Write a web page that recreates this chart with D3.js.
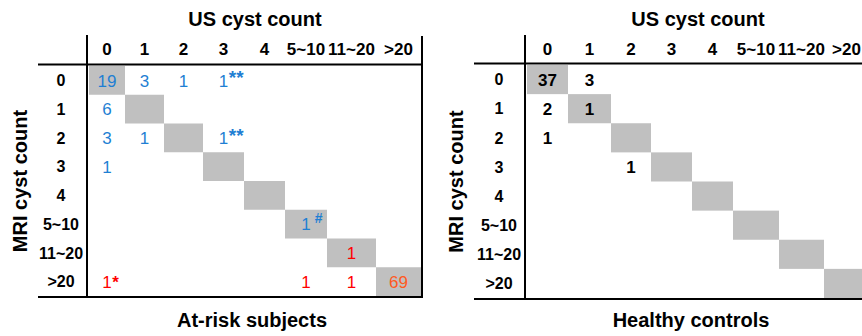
<!DOCTYPE html>
<html>
<head>
<meta charset="utf-8">
<script src="https://cdn.jsdelivr.net/npm/d3@7"></script>
<style>
  body { margin: 0; background: #fff; }
  svg { display: block; font-family: 'Liberation Sans', Arial, sans-serif; }
</style>
</head>
<body>
<div id="chart"></div>
<script>
// categories shared by both axes
const countBins = ['0', '1', '2', '3', '4', '5~10', '11~20', '>20']

// at-risk subjects: [MRI bin, US bin, count, mark, kind]
const atRiskCells = [
  ['0', '0', 19, '', 'under'],
  ['0', '1', 3, '', 'under'],
  ['0', '2', 1, '', 'under'],
  ['0', '3', 1, '**', 'under'],
  ['1', '0', 6, '', 'under'],
  ['2', '0', 3, '', 'under'],
  ['2', '1', 1, '', 'under'],
  ['2', '3', 1, '**', 'under'],
  ['3', '0', 1, '', 'under'],
  ['5~10', '5~10', 1, '#', 'under'],
  ['11~20', '11~20', 1, '', 'over'],
  ['>20', '0', 1, '*', 'over'],
  ['>20', '5~10', 1, '', 'over'],
  ['>20', '11~20', 1, '', 'over'],
  ['>20', '>20', 69, '', 'top']
]

// healthy controls
const controlCells = [
  ['0', '0', 37, '', 'plain'],
  ['0', '1', 3, '', 'plain'],
  ['1', '0', 2, '', 'plain'],
  ['1', '1', 1, '', 'plain'],
  ['2', '0', 1, '', 'plain'],
  ['3', '2', 1, '', 'plain']
]

const kindColor = { under: '#1f7fd3', over: '#ff0000', top: '#ff5a1f', plain: '#000' }
const W = 862, H = 336

const svg = d3.select('#chart').append('svg').attr('width', W).attr('height', H)

const panels = [
  {
    cells: atRiskCells, caption: 'At-risk subjects', bold: false,
    left: 89, colW: [36, 39, 39, 41, 41, 42, 49, 45], top: 66, bottom: 296,
    lineLeft: 38, lineRight: 423, rightBorder: true, rowLabelX: 61, yTitleX: 20, captionX: 252
  },
  {
    cells: controlCells, caption: 'Healthy controls', bold: true,
    left: 527, colW: [41, 43, 40, 41, 41, 46, 45, 45], top: 65, bottom: 298,
    lineLeft: 474, lineRight: W, rightBorder: false, rowLabelX: 499, yTitleX: 456, captionX: 691
  }
]

panels.forEach(p => drawPanel(p))

function drawPanel(p) {
  const g = svg.append('g')
  const edges = d3.cumsum(p.colW)
  const right = p.left + edges[edges.length - 1]
  // column start positions via an ordinal scale
  const x = d3.scaleOrdinal().domain(countBins).range(countBins.map((c, i) => p.left + (i ? edges[i - 1] : 0)))
  const xw = d3.scaleOrdinal().domain(countBins).range(p.colW)
  const xc = c => x(c) + xw(c) / 2
  const y = d3.scaleBand().domain(countBins).range([p.top, p.bottom])

  // diagonal agreement cells
  g.selectAll('rect.diag')
    .data(countBins)
    .join('rect')
    .attr('class', 'diag')
    .attr('x', d => x(d))
    .attr('y', d => y(d))
    .attr('width', d => xw(d))
    .attr('height', y.bandwidth())
    .attr('fill', '#c0c0c0')

  // frame lines
  const line = (x1, y1, x2, y2) =>
    g.append('line')
      .attr('x1', x1).attr('y1', y1).attr('x2', x2).attr('y2', y2)
      .attr('stroke', '#000').attr('stroke-width', 2)
  line(p.left - 2, 35, p.left - 2, p.bottom + 1)
  line(p.lineLeft, p.top - 1.5, p.lineRight, p.top - 1.5)
  line(p.lineLeft, p.bottom + 1, p.lineRight, p.bottom + 1)
  if (p.rightBorder) line(right + 1, 36, right + 1, p.bottom + 2)

  // column labels
  g.selectAll('text.col')
    .data(countBins)
    .join('text')
    .attr('class', 'col')
    .attr('x', d => xc(d))
    .attr('y', 55)
    .attr('text-anchor', 'middle')
    .attr('font-weight', 'bold')
    .attr('font-size', 17)
    .text(d => d)

  // row labels
  g.selectAll('text.row')
    .data(countBins)
    .join('text')
    .attr('class', 'row')
    .attr('x', p.rowLabelX)
    .attr('y', d => y(d) + y.bandwidth() / 2)
    .attr('dy', '0.36em')
    .attr('text-anchor', 'middle')
    .attr('font-weight', 'bold')
    .attr('font-size', 16)
    .text(d => d)

  // titles
  g.append('text')
    .attr('x', (p.left + right) / 2)
    .attr('y', 26)
    .attr('text-anchor', 'middle')
    .attr('font-weight', 'bold')
    .attr('font-size', 20)
    .text('US cyst count')

  g.append('text')
    .attr('transform', `translate(${p.yTitleX + 7},${(p.top + p.bottom) / 2}) rotate(-90)`)
    .attr('text-anchor', 'middle')
    .attr('font-weight', 'bold')
    .attr('font-size', 20)
    .text('MRI cyst count')

  g.append('text')
    .attr('x', p.captionX)
    .attr('y', 327)
    .attr('text-anchor', 'middle')
    .attr('font-weight', 'bold')
    .attr('font-size', 20)
    .text(p.caption)

  // counts
  const vals = g.selectAll('g.val')
    .data(p.cells)
    .join('g')
    .attr('class', 'val')
    .attr('transform', d => `translate(${xc(d[1])},${y(d[0]) + y.bandwidth() / 2})`)

  vals.append('text')
    .attr('class', 'num')
    .attr('text-anchor', 'middle')
    .attr('dy', '0.36em')
    .attr('font-size', 17)
    .attr('font-weight', p.bold ? 'bold' : 'normal')
    .attr('fill', d => kindColor[d[4]])
    .text(d => d[2])

  // superscript marks next to the count
  vals.filter(d => d[3])
    .append('text')
    .attr('x', function (d) {
      const w = this.parentNode.querySelector('text.num').getComputedTextLength()
      return w / 2 + (d[3] === '#' ? 4 : 0.5)
    })
    .attr('dy', d => (d[3] === '#' ? '-0.1em' : d[3] === '**' ? '0.2em' : '0.36em'))
    .attr('font-size', d => (d[3] === '#' ? 14 : d[3] === '**' ? 19 : 17))
    .attr('font-weight', 'bold')
    .attr('fill', d => kindColor[d[4]])
    .text(d => d[3])
}
</script>
</body>
</html>
